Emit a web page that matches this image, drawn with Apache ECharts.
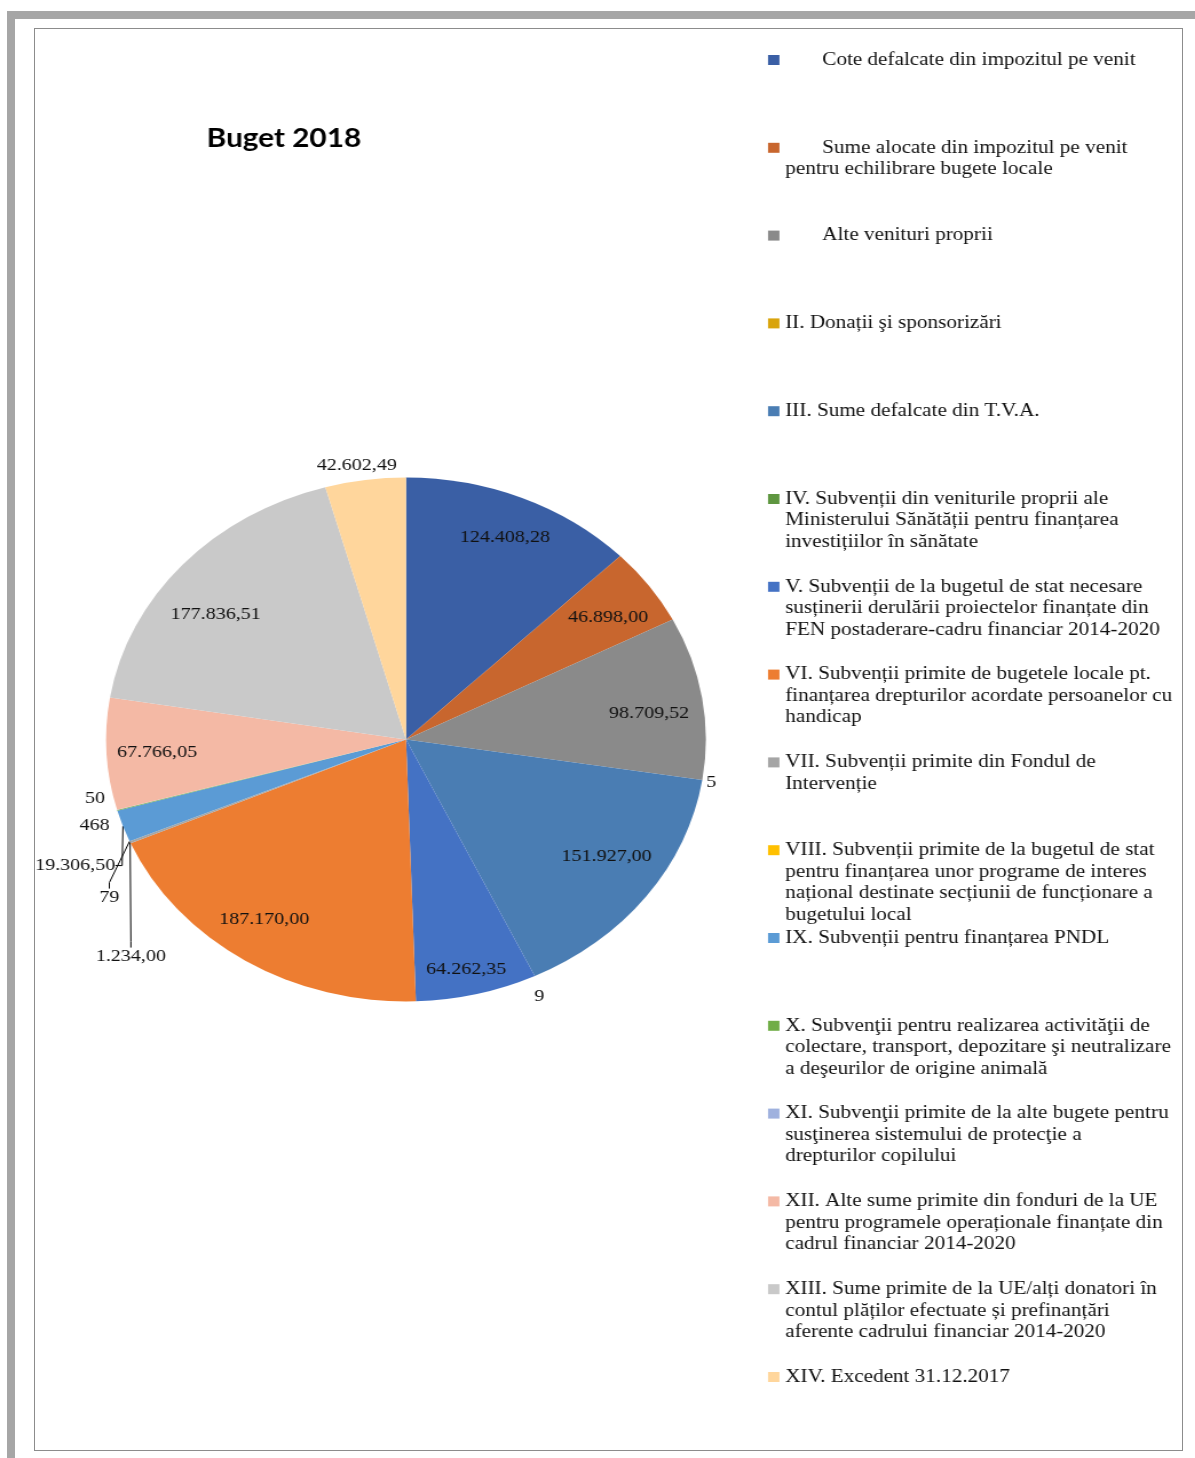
<!DOCTYPE html>
<html>
<head>
<meta charset="utf-8">
<script src="https://cdn.jsdelivr.net/npm/echarts@6/dist/echarts.min.js"></script>
<style>
html, body { margin: 0; padding: 0; background: #fff; width: 1195px; height: 1458px; overflow: hidden; }
#frameTop { position: absolute; left: 7px; top: 11px; width: 1188px; height: 8px; background: #A6A6A6; }
#frameLeft { position: absolute; left: 7px; top: 11px; width: 8px; height: 1447px; background: #A6A6A6; }
#box { position: absolute; left: 34px; top: 28px; width: 1147px; height: 1421px; border: 1px solid #8C8C8C; }
#chart { position: absolute; left: 0; top: 0; width: 1044px; height: 1458px; transform: scaleX(1.1447); transform-origin: 0 0; }
</style>
</head>
<body>
<div id="frameTop"></div>
<div id="frameLeft"></div>
<div id="box"></div>
<div id="chart"></div>
<script>
// ---------- data ----------
const chartTitle = 'Buget 2018';

const categories = [
  'Cote defalcate din impozitul pe venit',
  'Sume alocate din impozitul pe venit\npentru echilibrare bugete locale',
  'Alte venituri proprii',
  'II. Donații şi sponsorizări',
  'III. Sume defalcate din T.V.A.',
  'IV. Subvenții din veniturile proprii ale\nMinisterului Sănătății pentru finanțarea\ninvestițiilor în sănătate',
  'V. Subvenții de la bugetul de stat necesare\nsusținerii derulării proiectelor finanțate din\nFEN postaderare-cadru financiar 2014-2020',
  'VI. Subvenții primite de bugetele locale pt.\nfinanțarea drepturilor acordate persoanelor cu\nhandicap',
  'VII. Subvenții primite din Fondul de\nIntervenție',
  'VIII. Subvenții primite de la bugetul de stat\npentru finanțarea unor programe de interes\nnațional destinate secțiunii de funcționare a\nbugetului local',
  'IX. Subvenții pentru finanțarea PNDL',
  'X. Subvenţii pentru realizarea activităţii de\ncolectare, transport, depozitare şi neutralizare\na deşeurilor de origine animală',
  'XI. Subvenţii primite de la alte bugete pentru\nsusţinerea sistemului de protecţie a\ndrepturilor copilului',
  'XII. Alte sume primite din fonduri de la UE\npentru programele operaționale finanțate din\ncadrul financiar 2014-2020',
  'XIII. Sume primite de la UE/alți donatori în\ncontul plăților efectuate și prefinanțări\naferente cadrului financiar 2014-2020',
  'XIV. Excedent 31.12.2017'
];

const values = [
  124408.28, 46898.00, 98709.52, 5, 151927.00, 9, 64262.35, 187170.00,
  1234.00, 79, 19306.50, 468, 50, 67766.05, 177836.51, 42602.49
];

const colors = [
  '#3A5FA5', '#C8662E', '#8A8A8A', '#D9A40C', '#4A7DB3', '#5E9640', '#4472C4', '#ED7D31',
  '#A5A5A5', '#FFC000', '#5B9BD5', '#70AD47', '#9FB1DE', '#F4B9A5', '#C9C9C9', '#FFD69C'
];

// ---------- layout / style ----------
const S = 1.1447;                 // horizontal stretch of the picture
const CX = 406 / S, CY = 739.5;   // pie centre
const R = 262;                    // pie radius
const LH = 21.5;                  // legend line height
const STEP = 87.8;                // legend item pitch
const SERIF = '"Liberation Serif", "Times New Roman", serif';
const total = values.reduce((a, b) => a + b, 0);
const isOutside = i => values[i] / total < 0.045;
const LEADER = new Set([8, 9, 10]);
// fine nudges of the value labels (text placement only)
const OUT_SHIFT = {
  3: [-17.5, 1], 5: [-15.7, 11], 15: [40, -5],
  12: [11.4, -14], 11: [13, -7], 10: [15, 13], 9: [15, 25], 8: [51.5, 64]
};
const IN_SHIFT = {
  0: [0, 4], 1: [-4.4, 9], 2: [-7.9, 9], 4: [-3.5, -17], 6: [0, 13],
  7: [-4.4, -8], 13: [5.2, 1], 14: [0, 24]
};

function fmt(v) {
  if (v < 1000) return String(v);
  const parts = v.toFixed(2).split('.');
  return parts[0].replace(/\B(?=(\d{3})+(?!\d))/g, '.') + ',' + parts[1];
}

function nudge(table) {
  return p => {
    const d = table[p.dataIndex];
    if (!d) return {};
    const r = p.labelRect;
    return {
      x: r.x + r.width / 2 + d[0],
      y: r.y + r.height / 2 + d[1],
      align: 'center',
      verticalAlign: 'middle'
    };
  };
}

const legends = categories.map((name, i) => {
  const n = name.split('\n').length;
  const iconCenter = 60 + i * STEP;
  const pad = '\n'.repeat(n - 1);
  return {
    data: [name],
    orient: 'vertical',
    left: 768 / S,
    top: iconCenter - (2 * n - 1) * LH / 2,
    padding: 0,
    itemWidth: 10,
    itemHeight: 10,
    icon: 'rect',
    formatter: t => pad + (i < 3 ? '       ' : '') + t,
    textStyle: { fontFamily: SERIF, fontSize: 18.5, lineHeight: LH, color: '#111' }
  };
});

const chart = echarts.init(document.getElementById('chart'));
chart.setOption({
  backgroundColor: 'transparent',
  animation: false,
  title: {
    text: chartTitle, left: 180.5, top: 124, padding: 0,
    textStyle: { fontFamily: 'Lato', fontWeight: 'bold', fontSize: 26, lineHeight: 30, color: '#000' }
  },
  legend: legends,
  series: [
    {
      type: 'pie',
      name: chartTitle,
      center: [CX, CY],
      radius: [0, R],
      startAngle: 90,
      clockwise: true,
      avoidLabelOverlap: true,
      minShowLabelAngle: 0,
      itemStyle: { borderWidth: 0 },
      emphasis: { scale: false },
      label: {
        position: 'outside',
        formatter: p => fmt(p.value),
        fontFamily: SERIF, fontSize: 17.5, color: '#111'
      },
      labelLine: { length: 10, length2: 6, lineStyle: { color: '#000', width: 1 } },
      labelLayout: nudge(OUT_SHIFT),
      data: values.map((v, i) => ({
        name: categories[i],
        value: v,
        itemStyle: { color: colors[i] },
        label: { show: isOutside(i) },
        labelLine: { show: LEADER.has(i) }
      }))
    },
    {
      type: 'pie',
      name: 'labels',
      center: [CX, CY],
      radius: [0, R * 1.68],
      startAngle: 90,
      clockwise: true,
      silent: true,
      itemStyle: { color: 'rgba(0,0,0,0)', borderWidth: 0 },
      label: {
        position: 'inside',
        formatter: p => fmt(p.value),
        fontFamily: SERIF, fontSize: 17.5, color: '#111'
      },
      labelLine: { show: false },
      labelLayout: nudge(IN_SHIFT),
      data: values.map((v, i) => ({
        name: categories[i],
        value: v,
        label: { show: !isOutside(i) }
      }))
    }
  ]
});
</script>
</body>
</html>
